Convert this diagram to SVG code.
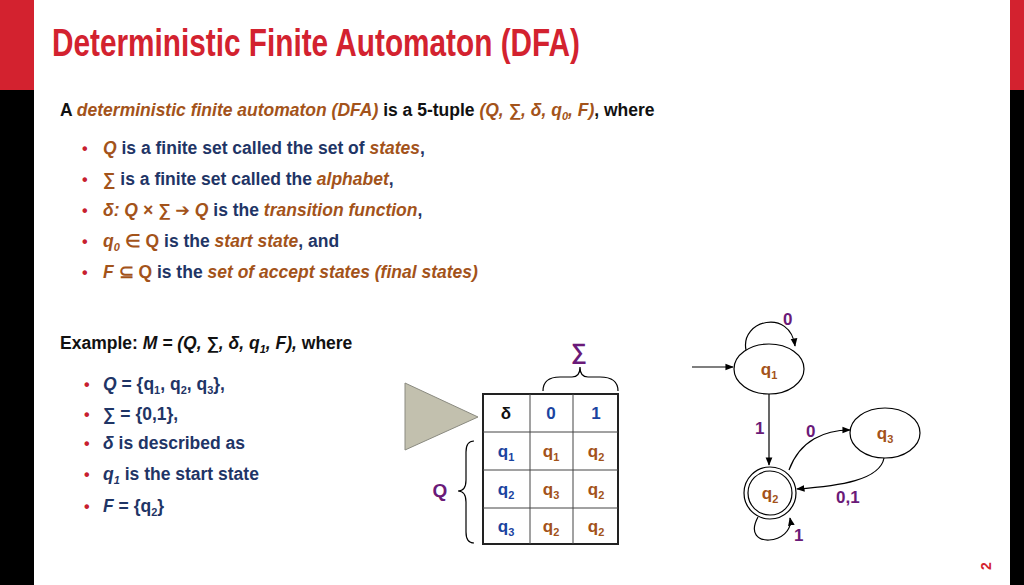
<svg xmlns="http://www.w3.org/2000/svg" width="1024" height="585" viewBox="0 0 1024 585">
<style>
text{font-family:"Liberation Sans",Arial,sans-serif;font-weight:bold}
.b{fill:#1f3566}.k{fill:#111}.o{fill:#a3531a;font-style:italic}.ob{fill:#a3531a}.i{font-style:italic}
.p{fill:#6a1a78}.bl{fill:#1a44a0}.dot{fill:#c8202e}
.ln{fill:none;stroke:#000;stroke-width:1.2}
.st{fill:#fff;stroke:#000;stroke-width:1.2}
.tb{fill:none;stroke:#222;stroke-width:2}
</style>
<defs><marker id="a" viewBox="0 0 10 10" refX="9" refY="5" markerWidth="7" markerHeight="7" orient="auto"><path d="M0,1 L10,5 L0,9 z" fill="#000"/></marker></defs>
<rect width="1024" height="585" fill="#fff"/>
<rect x="0" y="0" width="34" height="90" fill="#d3222f"/>
<rect x="0" y="90" width="34" height="495" fill="#000"/>
<rect x="1010" y="0" width="14" height="90" fill="#d3222f"/>
<rect x="1010" y="90" width="14" height="495" fill="#000"/>
<text x="52" y="56" font-size="39" fill="#d3222f" textLength="528" lengthAdjust="spacingAndGlyphs">Deterministic Finite Automaton (DFA)</text>
<text x="60" y="116" font-size="17.5" class="k">A <tspan class="o">deterministic finite automaton (DFA)</tspan> is a 5-tuple <tspan class="o">(Q, ∑, δ, q<tspan font-size="11" dy="4">0</tspan><tspan dy="-4">, F)</tspan></tspan>, where</text>
<g font-size="17.5">
<text x="82" y="154" class="dot" font-size="16">•</text>
<text x="103" y="154" class="b"><tspan class="o">Q</tspan> is a finite set called the set of <tspan class="o">states</tspan>,</text>
<text x="82" y="185" class="dot" font-size="16">•</text>
<text x="103" y="185" class="b"><tspan class="ob">∑</tspan> is a finite set called the <tspan class="o">alphabet</tspan>,</text>
<text x="82" y="216" class="dot" font-size="16">•</text>
<text x="103" y="216" class="b"><tspan class="o">δ: Q × ∑ </tspan><tspan class="ob" font-family="DejaVu Sans">➔</tspan><tspan class="o"> Q</tspan> is the <tspan class="o">transition function</tspan>,</text>
<text x="82" y="247" class="dot" font-size="16">•</text>
<text x="103" y="247" class="b"><tspan class="o">q<tspan font-size="11" dy="4">0</tspan></tspan><tspan dy="-4" class="ob"> ∈ Q</tspan> is the <tspan class="o">start state</tspan>, and</text>
<text x="82" y="278" class="dot" font-size="16">•</text>
<text x="103" y="278" class="b"><tspan class="o">F</tspan><tspan class="ob"> ⊆ Q</tspan> is the <tspan class="o">set of accept states (final states)</tspan></text>
</g>
<text x="60" y="349" font-size="17.5" class="k">Example: <tspan class="i">M = (Q, ∑, δ, q<tspan font-size="11" dy="4">1</tspan><tspan dy="-4">, F),</tspan></tspan> where</text>
<g font-size="17.5" class="b">
<text x="84" y="390" class="dot" font-size="16">•</text>
<text x="103" y="390"><tspan class="i">Q</tspan> = {q<tspan font-size="11" dy="4">1</tspan><tspan dy="-4">, q</tspan><tspan font-size="11" dy="4">2</tspan><tspan dy="-4">, q</tspan><tspan font-size="11" dy="4">3</tspan><tspan dy="-4">},</tspan></text>
<text x="84" y="420" class="dot" font-size="16">•</text>
<text x="103" y="420">∑ = {0,1},</text>
<text x="84" y="449" class="dot" font-size="16">•</text>
<text x="103" y="449"><tspan class="i">δ</tspan> is described as</text>
<text x="84" y="480" class="dot" font-size="16">•</text>
<text x="103" y="480"><tspan class="i">q<tspan font-size="11" dy="4">1</tspan></tspan><tspan dy="-4"> is the start state</tspan></text>
<text x="84" y="512" class="dot" font-size="16">•</text>
<text x="103" y="512"><tspan class="i">F</tspan> = {q<tspan font-size="11" dy="4">2</tspan><tspan dy="-4">}</tspan></text>
</g>
<g id="triangle"><polygon points="405,383 478,417 405,450" fill="#c2c0ae" stroke="#8a8a80"/></g>
<g id="table">
<rect x="483" y="394" width="135" height="150" class="tb"/>
<path d="M530,394V544M573,394V544M483,432H618M483,470H618M483,508H618" stroke="#444" stroke-width="1"/>
<g font-size="17" text-anchor="middle">
<text x="506" y="419" class="k">δ</text><text x="551" y="419" class="bl">0</text><text x="596" y="419" class="bl">1</text>
<text x="506" y="457" class="bl">q<tspan font-size="11" dy="4">1</tspan></text><text x="551" y="457" class="ob">q<tspan font-size="11" dy="4">1</tspan></text><text x="596" y="457" class="ob">q<tspan font-size="11" dy="4">2</tspan></text>
<text x="506" y="495" class="bl">q<tspan font-size="11" dy="4">2</tspan></text><text x="551" y="495" class="ob">q<tspan font-size="11" dy="4">3</tspan></text><text x="596" y="495" class="ob">q<tspan font-size="11" dy="4">2</tspan></text>
<text x="506" y="532" class="bl">q<tspan font-size="11" dy="4">3</tspan></text><text x="551" y="532" class="ob">q<tspan font-size="11" dy="4">2</tspan></text><text x="596" y="532" class="ob">q<tspan font-size="11" dy="4">2</tspan></text>
</g>
<path d="M543,391 Q543,377 560,377 L572,377 Q580,377 580,367 Q580,377 588,377 L600,377 Q618,377 618,391" class="ln" stroke-width="2"/>
<text x="579" y="359" font-size="22" class="p" text-anchor="middle" font-weight="normal">∑</text>
<path d="M474,441 Q466,441 466,452 L466,480 Q466,491 458,491 Q466,491 466,502 L466,532 Q466,543 474,543" class="ln" stroke-width="2"/>
<text x="440" y="497" font-size="19" class="p" text-anchor="middle">Q</text>
</g>
<g id="connectors">
<path d="M692,367 L733,367" class="ln" marker-end="url(#a)"/>
<path d="M746,350 C740,320 790,308 795,346" class="ln" marker-end="url(#a)"/>
<path d="M769,394 L769,465" class="ln" marker-end="url(#a)"/>
<path d="M789,470 C800,440 825,430 850,430" class="ln" marker-end="url(#a)"/>
<path d="M884,458 C880,480 840,486 797,489" class="ln" marker-end="url(#a)"/>
<path d="M758,517 C740,550 795,545 790,518" class="ln" marker-end="url(#a)"/>
</g>
<g font-size="17" class="p">
<text x="783" y="325">0</text><text x="755" y="434">1</text><text x="806" y="437">0</text><text x="836" y="503">0,1</text><text x="794" y="541">1</text>
</g>
<g id="q1"><ellipse cx="769" cy="369" rx="35" ry="25" class="st"/><text x="769" y="375" font-size="17" class="ob" text-anchor="middle">q<tspan font-size="11" dy="4">1</tspan></text></g>
<g id="q2"><circle cx="770" cy="493" r="26" class="st"/><circle cx="770" cy="493" r="22" class="st"/><text x="770" y="499" font-size="17" class="ob" text-anchor="middle">q<tspan font-size="11" dy="4">2</tspan></text></g>
<g id="q3"><ellipse cx="885" cy="433" rx="35" ry="25" class="st"/><text x="885" y="439" font-size="17" class="ob" text-anchor="middle">q<tspan font-size="11" dy="4">3</tspan></text></g>
<text x="991" y="566" font-size="14" fill="#d3222f" transform="rotate(-90 991 566)" text-anchor="middle">2</text>
</svg>
